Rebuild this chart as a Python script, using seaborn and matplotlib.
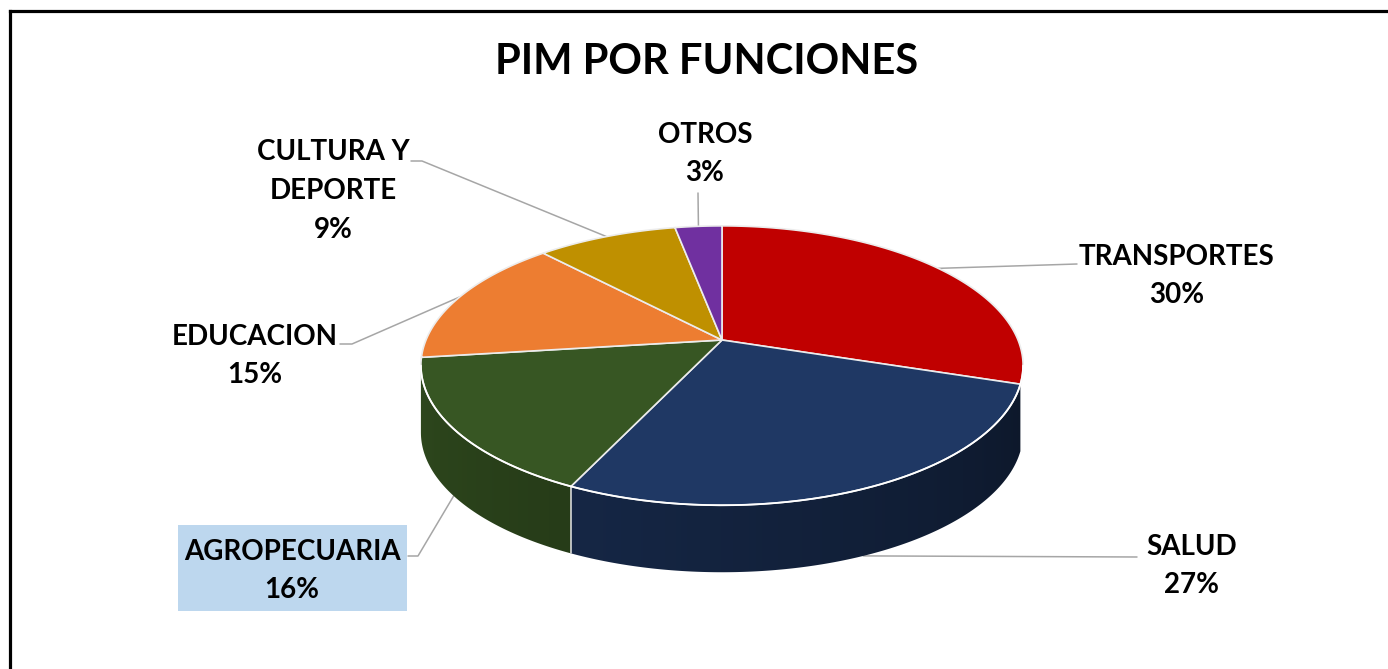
import numpy as np
import matplotlib
matplotlib.use('Agg')
import matplotlib.pyplot as plt
from matplotlib.patches import Polygon, Rectangle
import seaborn as sns

# datos del grafico
categorias = ['TRANSPORTES', 'SALUD', 'AGROPECUARIA', 'EDUCACION', 'CULTURA Y\nDEPORTE', 'OTROS']
porcentajes = [30, 27, 16, 15, 9, 3]
colores = ['#C00000', '#1F3864', '#375623', '#ED7D31', '#BF9000', '#7030A0']
titulo = 'PIM POR FUNCIONES'

sns.set_theme(style='white')
plt.rcParams['font.family'] = ['Lato', 'DejaVu Sans']
paleta = sns.color_palette(colores)

fig = plt.figure(figsize=(13.88, 6.69), dpi=100)
ax = fig.add_axes([0, 0, 1, 1])
ax.set_xlim(0, 1388)
ax.set_ylim(669, 0)
ax.axis('off')

# geometria del pastel 3D (perspectiva simple)
cx, cy = 722, 340
R, Ry, p = 296, 135, 0.183
grosor = 67


def proyectar(theta_deg):
    t = np.radians(theta_deg)
    w = 1 + p * np.sin(t)
    return cx + R * np.cos(t) / w, cy - Ry * np.sin(t) / w


def sombra(theta_deg):
    return 0.4 + 0.45 * (-10 - theta_deg) / 160


acum = np.cumsum([0] + porcentajes)
angulos = [(90 - 3.6 * acum[i], 90 - 3.6 * acum[i + 1]) for i in range(len(porcentajes))]

# lado visible (frente)
lim_izq = -180 + np.degrees(np.arcsin(p))
lim_der = -np.degrees(np.arcsin(p))


def normalizar(a):
    while a > 90:
        a -= 360
    while a <= -270:
        a += 360
    return a


for (a0, a1), col in zip(angulos, paleta):
    a0n, a1n = normalizar(a0), normalizar(a1)
    if a1n > a0n:
        a1n -= 360
    lo, hi = max(a1n, lim_izq), min(a0n, lim_der)
    if hi - lo < 10:  # tiras casi invisibles en el borde
        continue
    ts = np.linspace(hi, lo, 200)
    arriba = [proyectar(t) for t in ts]
    abajo = [(x, y + grosor) for x, y in arriba[::-1]]
    poli = Polygon(arriba + abajo, closed=True, fc='none', ec='none', zorder=2)
    ax.add_patch(poli)
    # degradado horizontal recortado al lado
    xs = np.array([q[0] for q in arriba])
    x_izq, x_der = xs.min(), xs.max()
    cols = np.linspace(x_izq, x_der, 300)
    th = np.interp(cols, xs[::-1], ts[::-1])
    f = sombra(th)
    img = np.clip(np.array(col)[None, None, :] * f[None, :, None], 0, 1)
    ys = [q[1] for q in arriba]
    im = ax.imshow(img, extent=(x_izq - 3, x_der + 3, max(ys) + grosor + 2, min(ys) - 2),
                   aspect='auto', interpolation='bilinear', zorder=2)
    im.set_clip_path(poli)
    # borde entre lados
    if lim_izq < a1n < lim_der:
        x, y = proyectar(a1n)
        ax.plot([x, x], [y, y + grosor], color='#e6e6e6', lw=1.1, zorder=3)

ax.set_xlim(0, 1388)
ax.set_ylim(669, 0)

# cara superior
for (a0, a1), col in zip(angulos, paleta):
    ts = np.linspace(a0, a1, 200)
    pts = [(cx, cy)] + [proyectar(t) for t in ts]
    ax.add_patch(Polygon(pts, closed=True, fc=col, ec='#ececec', lw=1.2, zorder=4))

# borde frontal blanco
ts = np.linspace(lim_izq, lim_der, 300)
ax.plot([proyectar(t)[0] for t in ts], [proyectar(t)[1] for t in ts], color='white', lw=1.3, zorder=4.5)

# etiquetas y lineas guia
pos_etiquetas = [(1177, 276), (1192, 566), (292, 571), (255, 356), (333, 191), (705, 154)]
guias = [[(1077, 264)], [(1137, 557)], [(418, 556), (408, 556)], [(352, 344), (340, 344)],
         [(422, 161), (411, 161)], [(698, 193)]]

ax.add_patch(Rectangle((178, 525), 229, 86, fc='#BDD7EE', ec='none', zorder=1))

for i, (cat, pct) in enumerate(zip(categorias, porcentajes)):
    a0, a1 = angulos[i]
    mid = (a0 + a1) / 2
    x, y = proyectar(mid)
    if np.sin(np.radians(mid)) < 0:
        y += grosor
    pts = [(x, y)] + guias[i]
    ax.plot([q[0] for q in pts], [q[1] for q in pts], color='#a6a6a6', lw=1.1, zorder=1)
    lx, ly = pos_etiquetas[i]
    ax.text(lx, ly, f'{cat}\n{pct}%', ha='center', va='center', fontsize=20,
            fontweight='bold', color='black', linespacing=1.6, zorder=5)

ax.text(707, 62, titulo, ha='center', va='center', fontsize=30, fontweight='bold', color='black')

# marco del grafico
ax.plot([10, 10], [11, 700], color='black', lw=2.3, solid_capstyle='projecting', clip_on=False)
ax.plot([10, 1400], [11, 11], color='black', lw=2.3, solid_capstyle='projecting', clip_on=False)

fig.savefig('out.png', dpi=100)
